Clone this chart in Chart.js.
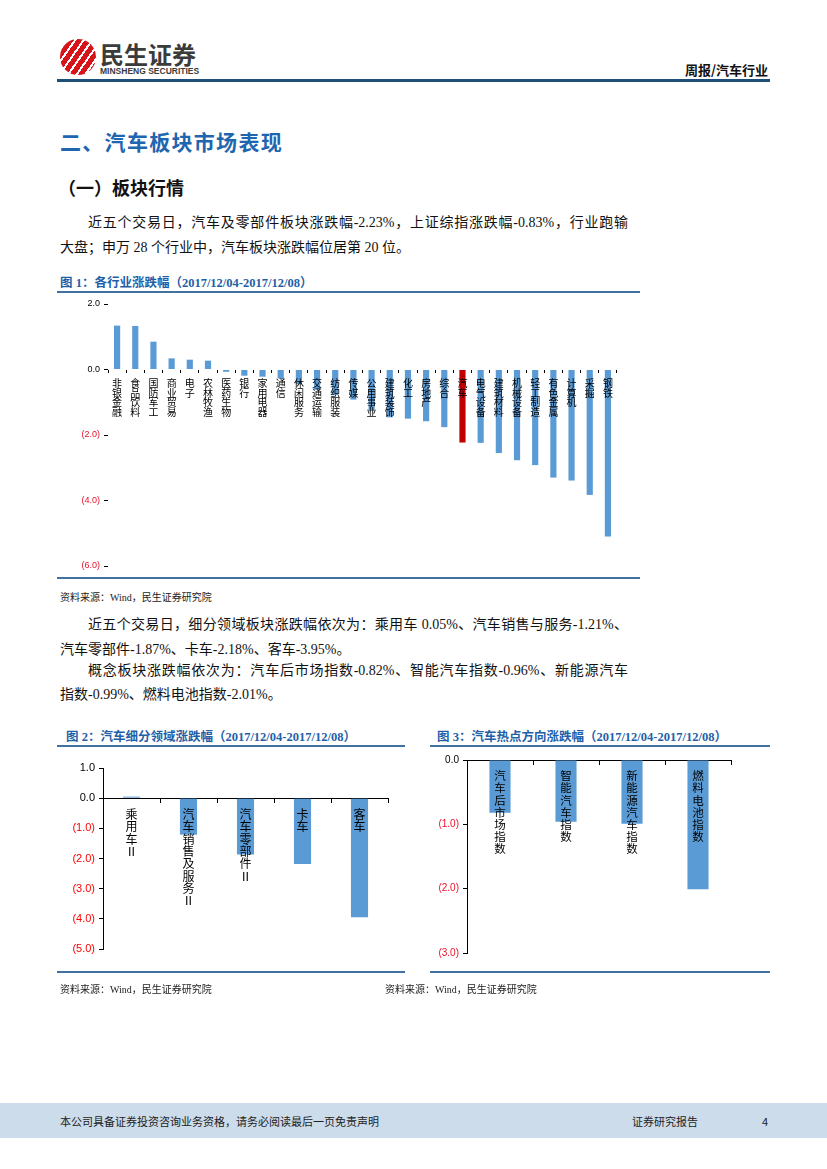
<!DOCTYPE html>
<html>
<head>
<meta charset="utf-8">
<script src="https://cdn.jsdelivr.net/npm/chart.js@4.4.0/dist/chart.umd.min.js"></script>
<style>
  body { margin: 0; background: #fff; }
  #page { position: relative; width: 827px; height: 1169px; overflow: hidden; background: #fff;
    font-family: "Liberation Serif", "Noto Sans CJK SC", serif; color: #111; }
  .abs { position: absolute; white-space: nowrap; }
  .line { position: absolute; height: 20px; line-height: 20px; font-size: 14px; }
  .just { text-align: justify; text-align-last: justify; white-space: nowrap; }
  .figtitle { position: absolute; font-size: 12.5px; font-weight: bold; color: #1f5fa8; line-height: 16px;
    font-family: "Liberation Serif", "Noto Sans CJK SC", serif; }
  .rule { position: absolute; height: 2px; background: #41719c; }
  .src { position: absolute; font-size: 10px; color: #222; line-height: 14px; }
  canvas { position: absolute; }
</style>
</head>
<body>
<div id="page">
  <!-- header -->
  <div class="abs" style="left:60px;top:39px;width:36px;height:36px;border-radius:50%;
       background:repeating-linear-gradient(125deg,#d7141a 0 5px,#fff 5px 7px);"></div>
  <div class="abs" style="left:100px;top:40px;font:bold 24px 'Noto Sans CJK SC';color:#3b3b3b;line-height:28px;">民生证券</div>
  <div class="abs" style="left:100px;top:66px;font:bold 8.5px 'Liberation Sans Narrow','Liberation Sans';color:#3b3b3b;">MINSHENG SECURITIES</div>
  <div class="abs" style="right:59px;top:61px;font:bold 13px 'Noto Sans CJK SC';color:#111;line-height:18px;">周报/汽车行业</div>
  <div class="abs" style="left:57px;top:79px;width:713px;height:3px;background:#1f4e79;"></div>

  <!-- headings -->
  <div class="abs" style="left:60px;top:127px;font:bold 21px 'Noto Sans CJK SC';color:#1f66b0;line-height:28px;letter-spacing:1.3px;">二、汽车板块市场表现</div>
  <div class="abs" style="left:58px;top:175px;font:bold 18px 'Noto Sans CJK SC';color:#111;line-height:24px;">（一）板块行情</div>

  <div class="line just" style="left:88px;top:213px;width:540px;">近五个交易日，汽车及零部件板块涨跌幅-2.23%，上证综指涨跌幅-0.83%，行业跑输</div>
  <div class="line" style="left:60px;top:238px;">大盘；申万 28 个行业中，汽车板块涨跌幅位居第 20 位。</div>

  <!-- figure 1 -->
  <div class="figtitle" style="left:60px;top:275px;">图 1：各行业涨跌幅（2017/12/04-2017/12/08）</div>
  <div class="rule" style="left:57px;top:291px;width:583px;"></div>
  <canvas id="chart1" width="580" height="282" style="left:60px;top:294px;"></canvas>
  <div class="rule" style="left:57px;top:577px;width:583px;"></div>
  <div class="src" style="left:60px;top:591px;">资料来源：Wind，民生证券研究院</div>

  <div class="line just" style="left:88px;top:615px;width:540px;">近五个交易日，细分领域板块涨跌幅依次为：乘用车 0.05%、汽车销售与服务-1.21%、</div>
  <div class="line" style="left:60px;top:640px;">汽车零部件-1.87%、卡车-2.18%、客车-3.95%。</div>
  <div class="line just" style="left:88px;top:661px;width:540px;">概念板块涨跌幅依次为：汽车后市场指数-0.82%、智能汽车指数-0.96%、新能源汽车</div>
  <div class="line" style="left:60px;top:685px;">指数-0.99%、燃料电池指数-2.01%。</div>

  <!-- figure 2 -->
  <div class="figtitle" style="left:66px;top:729px;">图 2：汽车细分领域涨跌幅（2017/12/04-2017/12/08）</div>
  <div class="rule" style="left:57px;top:745px;width:348px;"></div>
  <canvas id="chart2" width="348" height="222" style="left:57px;top:750px;"></canvas>
  <div class="rule" style="left:57px;top:971px;width:348px;"></div>
  <div class="src" style="left:60px;top:983px;">资料来源：Wind，民生证券研究院</div>

  <!-- figure 3 -->
  <div class="figtitle" style="left:437px;top:729px;">图 3：汽车热点方向涨跌幅（2017/12/04-2017/12/08）</div>
  <div class="rule" style="left:430px;top:745px;width:340px;"></div>
  <canvas id="chart3" width="340" height="222" style="left:430px;top:750px;"></canvas>
  <div class="rule" style="left:430px;top:971px;width:340px;"></div>
  <div class="src" style="left:385px;top:983px;">资料来源：Wind，民生证券研究院</div>

  <!-- footer -->
  <div class="abs" style="left:0;top:1103px;width:827px;height:35px;background:#cddcea;"></div>
  <div class="abs" style="left:60px;top:1113px;font:11px 'Noto Sans CJK SC';color:#222;line-height:16px;">本公司具备证券投资咨询业务资格，请务必阅读最后一页免责声明</div>
  <div class="abs" style="left:632px;top:1113px;font:11px 'Noto Sans CJK SC';color:#222;line-height:16px;">证券研究报告</div>
  <div class="abs" style="left:762px;top:1113px;font:11px 'Noto Sans CJK SC';color:#222;line-height:16px;">4</div>
</div>

<script>
// 图1: 申万28个行业涨跌幅 (%)
const industries = ['非银金融', '食品饮料', '国防军工', '商业贸易', '电子', '农林牧渔', '医药生物',
  '银行', '家用电器', '通信', '休闲服务', '交通运输', '纺织服装', '传媒', '公用事业', '建筑装饰',
  '化工', '房地产', '综合', '汽车', '电气设备', '建筑材料', '机械设备', '轻工制造', '有色金属',
  '计算机', '采掘', '钢铁'];
const industryChange = [1.34, 1.33, 0.85, 0.34, 0.30, 0.27, -0.07,
  -0.19, -0.22, -0.27, -0.45, -0.62, -0.78, -0.92, -1.27, -1.46,
  -1.50, -1.58, -1.76, -2.23, -2.24, -2.55, -2.77, -2.92, -3.30,
  -3.39, -3.83, -5.10];

// 图2: 汽车细分领域
const segments = ['乘用车Ⅱ', '汽车销售及服务Ⅱ', '汽车零部件Ⅱ', '卡车', '客车'];
const segmentChange = [0.05, -1.21, -1.87, -2.18, -3.95];

// 图3: 热点方向
const concepts = ['汽车后市场指数', '智能汽车指数', '新能源汽车指数', '燃料电池指数'];
const conceptChange = [-0.82, -0.96, -0.99, -2.01];

const BLUE = '#5b9bd5';
const DARK_RED = '#c00000';

// vertical labels: one character per line
const vertical = s => Array.from(s);

function fmtTick(v) {
  if (v < 0) return '(' + (-v).toFixed(1) + ')';
  return v.toFixed(1);
}

function makeChart(id, opts) {
  return new Chart(document.getElementById(id), {
    type: 'bar',
    data: {
      labels: opts.labels.map(vertical),
      datasets: [{
        data: opts.values,
        backgroundColor: opts.colors,
        barPercentage: opts.barPct,
        categoryPercentage: 1
      }]
    },
    options: {
      responsive: false,
      animation: false,
      devicePixelRatio: 1,
      layout: { padding: opts.padding },
      plugins: { legend: { display: false }, tooltip: { enabled: false } },
      scales: {
        x: {
          position: { y: 0 },
          afterFit: s => { s.height = 0; },
          border: { display: opts.xBorder, color: '#000', width: 1 },
          grid: { display: true, drawOnChartArea: false, drawTicks: true, tickLength: opts.xTick, color: '#000' },
          ticks: {
            z: 1, // labels on top of the bars
            autoSkip: false, maxRotation: 0, minRotation: 0, padding: opts.xPad,
            color: '#000',
            font: { family: 'Noto Sans CJK SC', size: opts.xFont, lineHeight: opts.xLine }
          }
        },
        y: {
          min: opts.min, max: opts.max,
          afterFit: s => { s.width = opts.yWidth; },
          border: { display: opts.yBorder, color: '#000', width: 1 },
          grid: { display: true, drawOnChartArea: false, drawTicks: true, tickLength: 4, color: '#000' },
          ticks: {
            stepSize: opts.step, padding: opts.yPad,
            callback: fmtTick,
            color: ctx => (ctx.tick && ctx.tick.value < 0) ? opts.negColor : '#000',
            font: { family: 'Liberation Sans', size: opts.yFont }
          }
        }
      }
    }
  });
}

makeChart('chart1', {
  labels: industries, values: industryChange,
  colors: industries.map(n => n === '汽车' ? DARK_RED : BLUE),
  barPct: 0.34, padding: { top: 10, right: 23, bottom: 10, left: 0 },
  min: -6, max: 2, step: 2, yWidth: 48, yFont: 9, yPad: 4, negColor: '#e8102a',
  xBorder: false, yBorder: false, xTick: 3, xPad: 6, xFont: 10, xLine: 0.95
});

makeChart('chart2', {
  labels: segments, values: segmentChange,
  colors: BLUE,
  barPct: 0.3, padding: { top: 18, right: 17, bottom: 23, left: 0 },
  min: -5, max: 1, step: 1, yWidth: 46, yFont: 11, yPad: 4, negColor: '#ff0000',
  xBorder: true, yBorder: true, xTick: 4, xPad: 6, xFont: 12, xLine: 1.03
});

makeChart('chart3', {
  labels: concepts, values: conceptChange,
  colors: BLUE,
  barPct: 0.32, padding: { top: 10, right: 39, bottom: 19, left: 0 },
  min: -3, max: 0, step: 1, yWidth: 37, yFont: 10, yPad: 4, negColor: '#e8102a',
  xBorder: true, yBorder: true, xTick: 4, xPad: 6, xFont: 11.5, xLine: 1.05
});
</script>
</body>
</html>
